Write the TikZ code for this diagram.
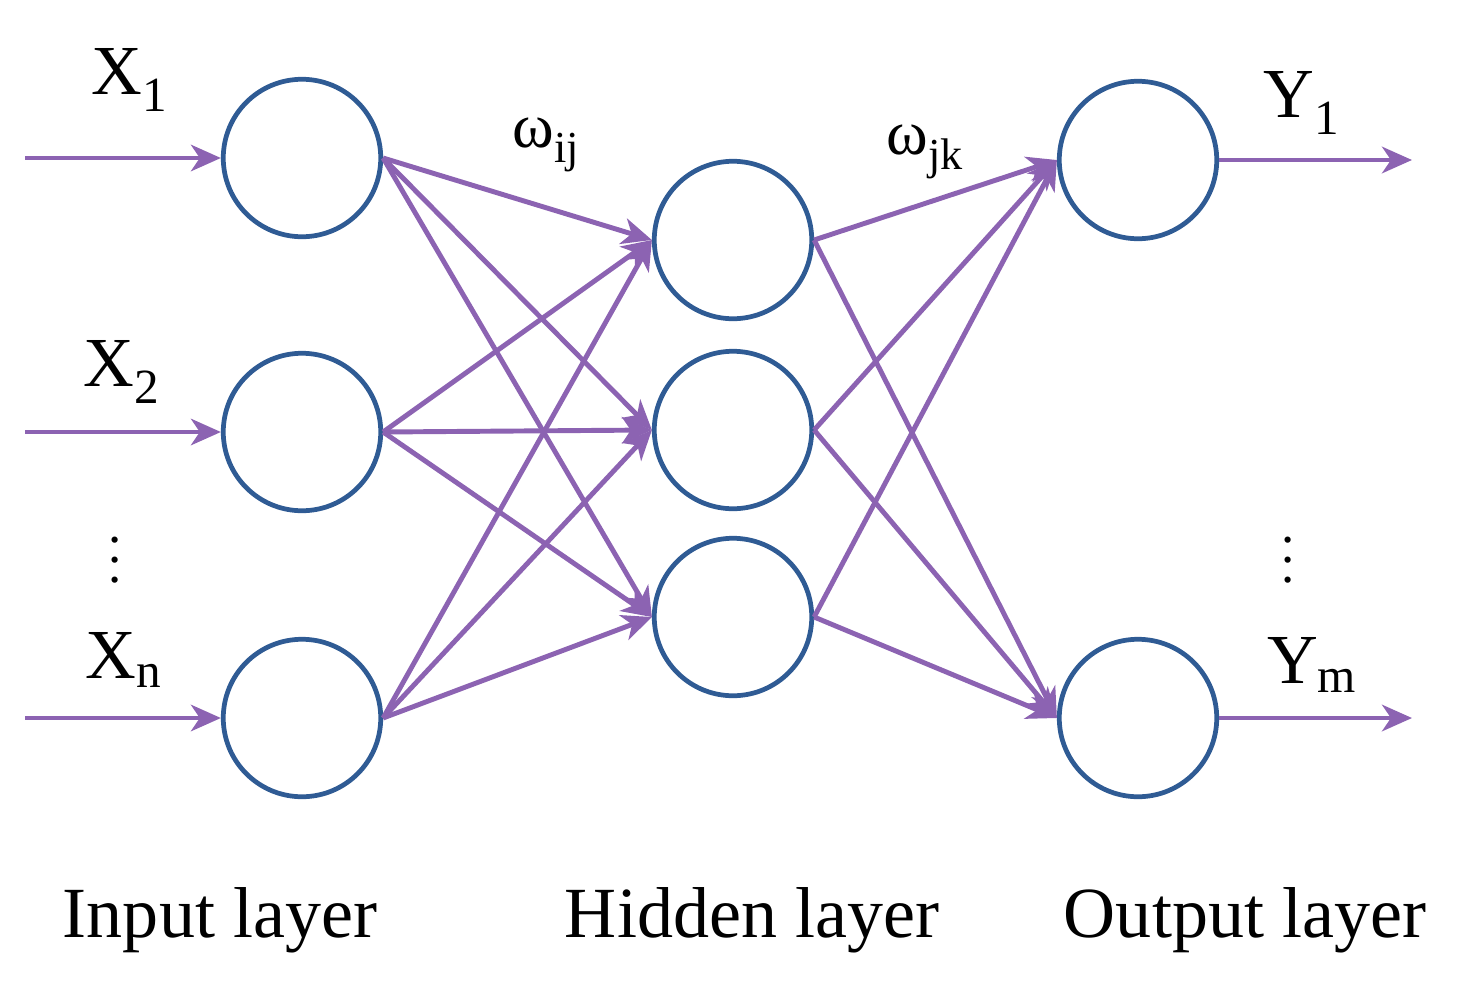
\documentclass[tikz,border=0pt]{standalone}
\usepackage{fontspec}
\setmainfont{Liberation Serif}
\usetikzlibrary{arrows.meta}
\definecolor{nb}{HTML}{2F5B94}
\definecolor{ar}{HTML}{8C63B2}
\begin{document}
\begin{tikzpicture}[x=0.02cm,y=-0.02cm,
  neuron/.style={circle,draw=nb,line width=2.7pt,minimum size=3.15cm,inner sep=0pt},
  con/.style={draw=ar,line width=2.8pt,-{Stealth[length=17pt,width=15pt,inset=5pt]}},
  lab/.style={font=\fontsize{40}{46}\selectfont},
  wl/.style={font=\fontsize{36}{42}\selectfont},
  ll/.style={font=\fontsize{41}{48}\selectfont},
  dl/.style={font=\fontsize{30}{11}\selectfont,inner sep=0pt}]
\useasboundingbox (0,0) rectangle (1469,994);
\node[neuron] (i1) at (302,158) {};
\node[neuron] (i2) at (302,432) {};
\node[neuron] (i3) at (302,718) {};
\node[neuron] (h1) at (733,240) {};
\node[neuron] (h2) at (733,430) {};
\node[neuron] (h3) at (733,617) {};
\node[neuron] (o1) at (1138,160) {};
\node[neuron] (o2) at (1138,718) {};
\coordinate (a1) at (25,158); \coordinate (a2) at (25,432); \coordinate (a3) at (25,718);
\coordinate (b1) at (1412,160); \coordinate (b2) at (1412,718);
\foreach \n in {1,2,3} \draw[con] (a\n) -- (i\n.west);
\foreach \n in {1,2} \draw[con] (o\n.east) -- (b\n);
\foreach \i in {1,2,3} \foreach \h in {1,2,3} \draw[con] (i\i.east) -- (h\h.west);
\foreach \h in {1,2,3} \foreach \o in {1,2} \draw[con] (h\h.east) -- (o\o.west);
\node[lab] (x1) at (130,80) {X\textsubscript{1}};
\node[lab] (x2) at (122,372) {X\textsubscript{2}};
\node[lab] (xn) at (124,660) {X\textsubscript{n}};
\node[dl] (xd) at (115,560) {\shortstack{.\\[5pt].\\[5pt].}};
\node[lab] (y1) at (1302,103) {Y\textsubscript{1}};
\node[lab] (ym) at (1312,665) {Y\textsubscript{m}};
\node[dl] (yd) at (1288,560) {\shortstack{.\\[5pt].\\[5pt].}};
\node[wl] (w1) at (546,145) {ω\textsubscript{ij}};
\node[wl] (w2) at (925,152) {ω\textsubscript{jk}};
\node[ll] (l1) at (220,920) {Input layer};
\node[ll] (l2) at (752,920) {Hidden layer};
\node[ll] (l3) at (1245,920) {Output layer};
\end{tikzpicture}
\end{document}
